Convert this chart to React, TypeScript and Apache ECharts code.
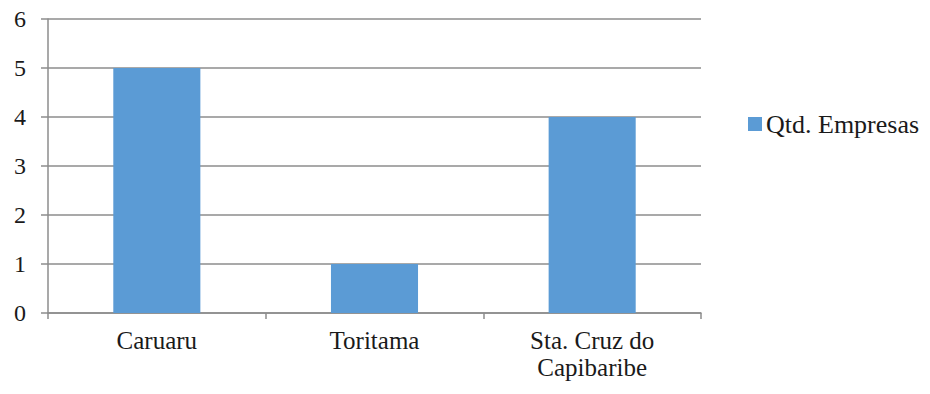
import React, { useEffect, useRef } from "react";
import * as echarts from "echarts";

// Number of companies per municipality
const categories = ["Caruaru", "Toritama", "Sta. Cruz do\nCapibaribe"];
const empresas = [5, 1, 4];
const seriesName = "Qtd. Empresas";
const yTicks = [0, 1, 2, 3, 4, 5, 6];

const FONT = "Liberation Serif";
const GRID_COLOR = "#8c8c8c";
const TEXT_COLOR = "#1a1a1a";

export default function App() {
  const ref = useRef<HTMLDivElement>(null);

  useEffect(() => {
    if (!ref.current) return;
    const chart = echarts.init(ref.current, null, { renderer: "svg" });
    chart.setOption({
      animation: false,
      backgroundColor: "#ffffff",
      textStyle: { fontFamily: FONT, color: TEXT_COLOR },
      grid: {
        left: 48,
        right: 229,
        top: 19,
        bottom: 81,
        containLabel: false,
        outerBoundsMode: "none",
      },
      legend: {
        data: [seriesName],
        orient: "vertical",
        left: 748,
        top: 111,
        padding: 0,
        itemWidth: 14,
        itemHeight: 14,
        icon: "rect",
        textStyle: { fontFamily: FONT, fontSize: 26, color: TEXT_COLOR, padding: [0, 0, 0, -1] },
      },
      xAxis: {
        type: "category",
        data: categories,
        axisLine: { show: true, lineStyle: { color: GRID_COLOR, width: 1.5 } },
        axisTick: { show: true, alignWithLabel: false, length: 6, lineStyle: { color: GRID_COLOR, width: 1.5 } },
        axisLabel: {
          fontFamily: FONT,
          fontSize: 25,
          lineHeight: 27,
          color: TEXT_COLOR,
          margin: 14,
          interval: 0,
        },
      },
      yAxis: {
        type: "value",
        min: yTicks[0],
        max: yTicks[yTicks.length - 1],
        interval: 1,
        axisLine: { show: true, lineStyle: { color: GRID_COLOR, width: 1.5 } },
        axisTick: { show: true, length: 7, lineStyle: { color: GRID_COLOR, width: 1.5 } },
        splitLine: { show: true, lineStyle: { color: GRID_COLOR, width: 1.5 } },
        axisLabel: {
          fontFamily: FONT,
          fontSize: 24,
          color: TEXT_COLOR,
          margin: 22,
        },
      },
      series: [
        {
          name: seriesName,
          type: "bar",
          data: empresas,
          barWidth: "40%",
          itemStyle: { color: "#5b9bd5" },
        },
      ],
    });
    return () => chart.dispose();
  }, []);

  return (
    <div
      ref={ref}
      style={{ position: "fixed", left: 0, top: 0, width: 930, height: 394, background: "#fff" }}
    />
  );
}
